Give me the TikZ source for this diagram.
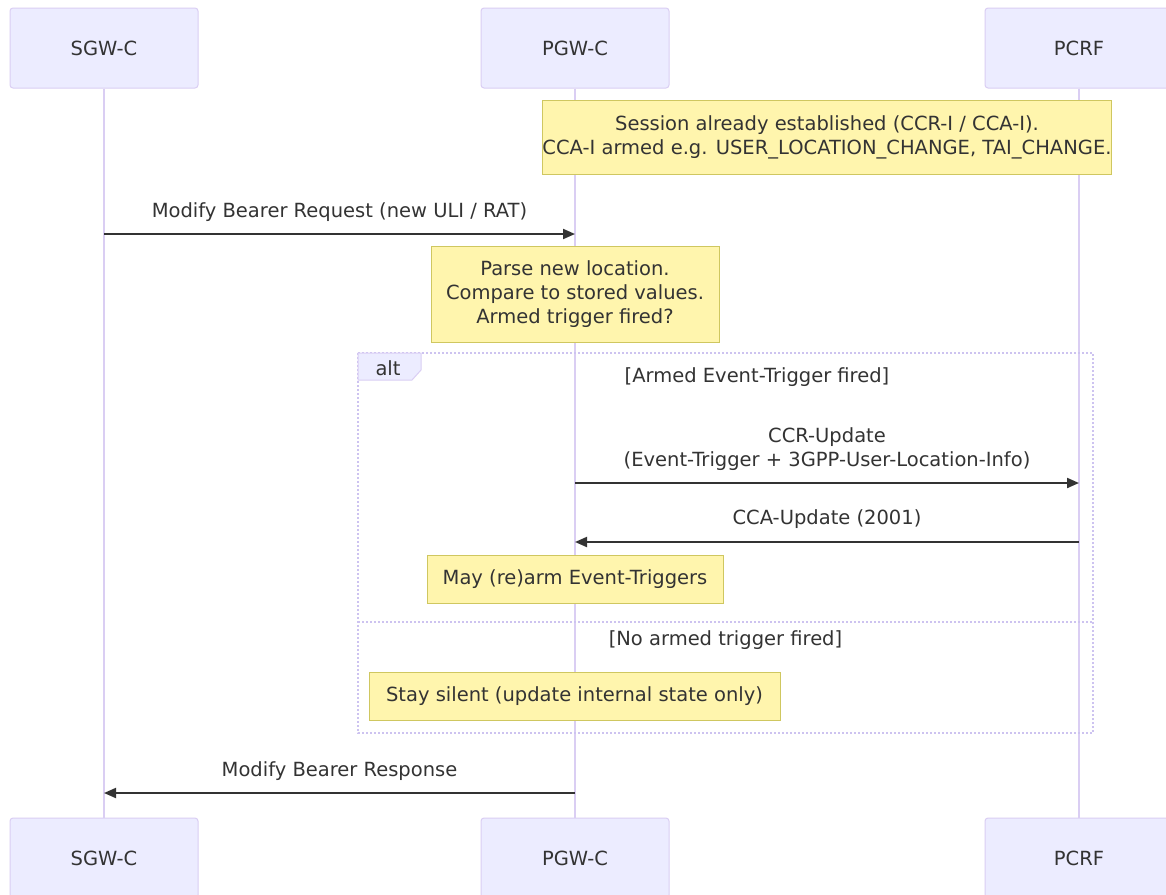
\documentclass[tikz,border=0pt]{standalone}
\usepackage{fontspec}
\setmainfont{DejaVu Sans}
\usetikzlibrary{arrows.meta}
\definecolor{actorfill}{HTML}{ECECFF}
\definecolor{actorline}{RGB}{218,206,243}
\definecolor{frameline}{RGB}{205,195,240}
\definecolor{notefill}{HTML}{FFF5AD}
\definecolor{noteline}{HTML}{CFC760}
\definecolor{ink}{HTML}{333333}
\begin{document}
\begin{tikzpicture}[x=1pt, y=-1pt,
    font=\fontsize{19.5}{24}\selectfont, text=ink,
    actor/.style={rectangle, draw=actorline, fill=actorfill, rounded corners=3pt, line width=1pt, minimum width=188pt, minimum height=80pt},
    lifeline/.style={draw=actorline, line width=1.8pt},
    note/.style={rectangle, draw=noteline, fill=notefill, line width=1pt, align=center, inner sep=0pt},
    msg/.style={draw=ink, line width=2pt, -{Triangle[length=12pt, width=10pt]}},
    lbl/.style={inner sep=0pt, align=center},
    frame/.style={draw=frameline, line width=1.8pt, dash pattern=on 2pt off 2pt}
]
    \path[fill=white, use as bounding box] (0,0) rectangle (1166,894);
    \clip (0,0) rectangle (1166,894);

    \node[actor] (sgwT) at (104,48) {SGW-C};
    \node[actor] (pgwT) at (575,48) {PGW-C};
    \node[actor] (pcrfT) at (1079,48) {PCRF};
    \node[actor] (sgwB) at (104,858) {SGW-C};
    \node[actor] (pgwB) at (575,858) {PGW-C};
    \node[actor] (pcrfB) at (1079,858) {PCRF};
    \draw[lifeline] (sgwT) -- (sgwB);
    \draw[lifeline] (pgwT) -- (pgwB);
    \draw[lifeline] (pcrfT) -- (pcrfB);

    \draw[frame] (358,353) rectangle (1093,733);
    \draw[frame] (358,622) -- (1093,622);
    \filldraw[fill=actorfill, draw=actorline, line width=1pt] (358,353) -- (421,353) -- (421,370) -- (412,380) -- (358,380) -- cycle;
    \node[lbl] (altl) at (388,368) {alt};
    \node[lbl] (cond1) at (757,377) {[Armed Event-Trigger fired]};
    \node[lbl] (cond2) at (725.5,640) {[No armed trigger fired]};

    \node[note, minimum width=568pt, minimum height=74pt] (n1) at (827,137) {Session already established (CCR-I / CCA-I).\\CCA-I armed e.g. USER\_LOCATION\_CHANGE, TAI\_CHANGE.};
    \node[note, minimum width=288pt, minimum height=96pt] (n2) at (575,294) {Parse new location.\\Compare to stored values.\\Armed trigger fired?};
    \node[note, minimum width=296pt, minimum height=48pt] (n3) at (575,579) {May (re)arm Event-Triggers};
    \node[note, minimum width=411pt, minimum height=48pt] (n4) at (574.5,696) {Stay silent (update internal state only)};

    \coordinate (reqS) at (104,234);
    \coordinate (reqP) at (575,234);
    \coordinate (ccrP) at (575,483);
    \coordinate (ccrC) at (1079,483);
    \coordinate (ccaC) at (1079,542);
    \coordinate (ccaP) at (575,542);
    \coordinate (rspP) at (575,793);
    \coordinate (rspS) at (104,793);

    \draw[msg] (reqS) -- (reqP);
    \node[lbl] (reql) at (339.5,212) {Modify Bearer Request (new ULI / RAT)};
    \draw[msg] (ccrP) -- (ccrC);
    \node[lbl] (ccrl) at (827,449) {CCR-Update\\(Event-Trigger + 3GPP-User-Location-Info)};
    \draw[msg] (ccaC) -- (ccaP);
    \node[lbl] (ccal) at (827,519) {CCA-Update (2001)};
    \draw[msg] (rspP) -- (rspS);
    \node[lbl] (rspl) at (339.5,771) {Modify Bearer Response};
\end{tikzpicture}
\end{document}
